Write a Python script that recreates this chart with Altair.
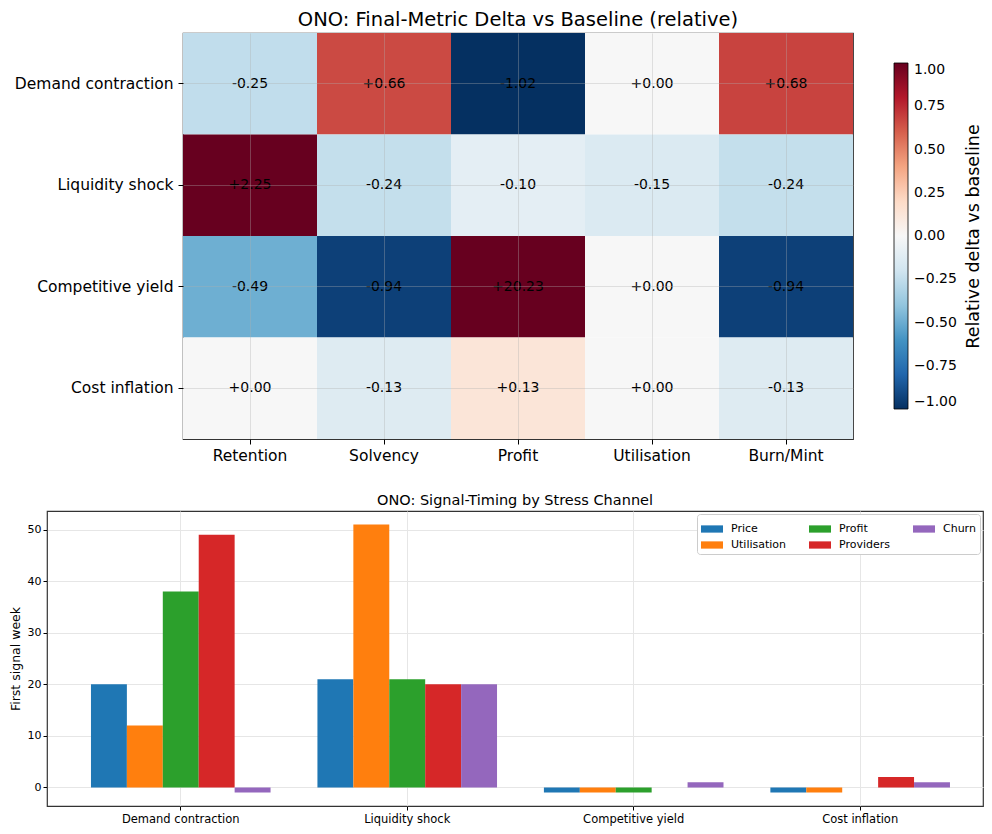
import altair as alt
import pandas as pd

# ---------------- data ----------------
scenarios = ["Demand contraction", "Liquidity shock", "Competitive yield", "Cost inflation"]
metrics = ["Retention", "Solvency", "Profit", "Utilisation", "Burn/Mint"]

delta_demand = [-0.25, 0.66, -1.02, 0.00, 0.68]
delta_liquidity = [2.25, -0.24, -0.10, -0.15, -0.24]
delta_competitive = [-0.49, -0.94, 20.23, 0.00, -0.94]
delta_cost = [0.00, -0.13, 0.13, 0.00, -0.13]

signals = ["Price", "Utilisation", "Profit", "Providers", "Churn"]
signal_colors = ["#1f77b4", "#ff7f0e", "#2ca02c", "#d62728", "#9467bd"]
week_price = [20, 21, -1, -1]
week_util = [12, 51, -1, -1]
week_profit = [38, 21, -1, 0]
week_providers = [49, 20, 0, 2]
week_churn = [-1, 20, 1, 1]

colorbar_ticks = [-1.0, -0.75, -0.5, -0.25, 0.0, 0.25, 0.5, 0.75, 1.0]
week_ticks = [0, 10, 20, 30, 40, 50]

# RdBu_r colour stops (matplotlib / ColorBrewer)
rdbu_r = ["#053061", "#2166ac", "#4393c3", "#92c5de", "#d1e5f0", "#f7f7f7",
          "#fddbc7", "#f4a582", "#d6604d", "#b2182b", "#67001f"]
rdbu_stops = [-1.0, -0.8, -0.6, -0.4, -0.2, 0.0, 0.2, 0.4, 0.6, 0.8, 1.0]

# ---------------- tables ----------------
heat_rows = []
for s, vals in zip(scenarios, [delta_demand, delta_liquidity, delta_competitive, delta_cost]):
    for m, v in zip(metrics, vals):
        heat_rows.append({"scenario": s, "metric": m, "delta": v, "label": f"{v:+.2f}"})
heat_df = pd.DataFrame(heat_rows)

bar_rows = []
for i, s in enumerate(scenarios):
    for sig, arr in zip(signals, [week_price, week_util, week_profit, week_providers, week_churn]):
        bar_rows.append({"scenario": s, "signal": sig, "week": arr[i]})
bar_df = pd.DataFrame(bar_rows)

FONT = "DejaVu Sans"
SPACER_W = 136

# ---------------- heatmap ----------------
hx = alt.X(
    "metric:N", sort=metrics, title=None,
    scale=alt.Scale(paddingInner=0, paddingOuter=0),
    axis=alt.Axis(labelAngle=0, labelFontSize=15.5, labelColor="black", tickSize=5,
                  tickColor="black", domain=False, grid=True, gridColor="#b0b0b0",
                  gridOpacity=0.35, zindex=1, bandPosition=0.5, labelPadding=4),
)
hy_left = alt.Y(
    "scenario:N", sort=scenarios, title=None,
    scale=alt.Scale(paddingInner=0, paddingOuter=0),
    axis=alt.Axis(labelFontSize=15.5, labelColor="black", tickSize=5, tickColor="black",
                  domain=False, grid=True, gridColor="#b0b0b0", gridOpacity=0.35,
                  zindex=1, bandPosition=0.5, labelPadding=5),
)
hy_right = alt.Y(
    "scenario:N", sort=scenarios,
    scale=alt.Scale(paddingInner=0, paddingOuter=0),
    axis=alt.Axis(orient="right", labels=False, ticks=False, domain=False, grid=False,
                  title="Relative delta vs baseline", titleAngle=270, titleFontSize=17.5,
                  titleFontWeight="normal", titleColor="black", titlePadding=129,
                  titleBaseline="bottom"),
)
hbase = alt.Chart(heat_df)
rect = hbase.mark_rect().encode(
    x=hx, y=hy_left,
    color=alt.Color(
        "delta:Q",
        scale=alt.Scale(domain=rdbu_stops, range=rdbu_r, interpolate="rgb", clamp=True),
        legend=alt.Legend(
            orient="none", legendX=711 + SPACER_W, legendY=30, direction="vertical",
            gradientLength=346, gradientThickness=14,
            gradientStrokeColor="black", gradientStrokeWidth=0.8,
            title=None,
            labelFontSize=14, labelColor="black", labelOffset=6,
            values=colorbar_ticks, format=".2f",
        ),
    ),
)
text = hbase.mark_text(fontSize=14, color="black").encode(x=hx, y=hy_right, text="label:N")
heat = (rect + text).resolve_axis(y="independent").properties(
    width=670, height=406,
    title=alt.TitleParams("ONO: Final-Metric Delta vs Baseline (relative)", fontSize=19.5,
                          fontWeight="normal", anchor="middle", color="black", offset=3),
)

spacer = alt.Chart(pd.DataFrame({"v": [0]})).mark_point(opacity=0).encode(
    x=alt.value(0), y=alt.value(0)
).properties(width=SPACER_W, height=406, view=alt.ViewBackground(stroke="transparent"))

top_row = alt.hconcat(spacer, heat, spacing=0, bounds="flush")

# ---------------- bars ----------------
bars = alt.Chart(bar_df).mark_bar().encode(
    x=alt.X("scenario:N", sort=scenarios, title=None,
            scale=alt.Scale(paddingInner=0.207, paddingOuter=0.17, align=0.571),
            axis=alt.Axis(labelAngle=0, labelFontSize=11.5, labelColor="black", tickSize=4,
                          tickColor="black", domain=False, grid=True, gridColor="#e6e6e6",
                          bandPosition=0.5, labelPadding=3)),
    xOffset=alt.XOffset("signal:N", sort=signals,
                        scale=alt.Scale(paddingInner=0, paddingOuter=0)),
    y=alt.Y("week:Q", title="First signal week",
            scale=alt.Scale(domain=[-3.6, 53.6], nice=False),
            axis=alt.Axis(values=week_ticks, labelFontSize=11, labelColor="black",
                          tickSize=4, tickColor="black", domain=False, grid=True,
                          gridColor="#e6e6e6", titleFontSize=12.5, titleFontWeight="normal",
                          titleColor="black", titlePadding=5, labelPadding=2)),
    color=alt.Color(
        "signal:N",
        scale=alt.Scale(domain=signals, range=signal_colors),
        legend=alt.Legend(
            orient="top-right", columns=3, title=None, offset=3,
            symbolType="M-1,-0.33H1V0.33H-1Z", symbolSize=484, symbolStrokeWidth=0,
            symbolOpacity=1, labelFontSize=11, labelColor="black", labelOffset=8,
            strokeColor="#cccccc", fillColor="white", padding=4, cornerRadius=3,
            columnPadding=22, rowPadding=0,
        ),
    ),
).properties(
    width=936, height=295,
    title=alt.TitleParams("ONO: Signal-Timing by Stress Channel", fontSize=14.5,
                          fontWeight="normal", anchor="middle", color="black", offset=3),
)

chart = alt.vconcat(top_row, bars, spacing=26).resolve_scale(
    color="independent"
).properties(
    padding={"left": 0, "top": 0, "right": 0, "bottom": 0}
).configure(font=FONT).configure_view(stroke="#333333", strokeWidth=1.2)

chart.save("out.html", embed_options={"renderer": "svg", "actions": False})
